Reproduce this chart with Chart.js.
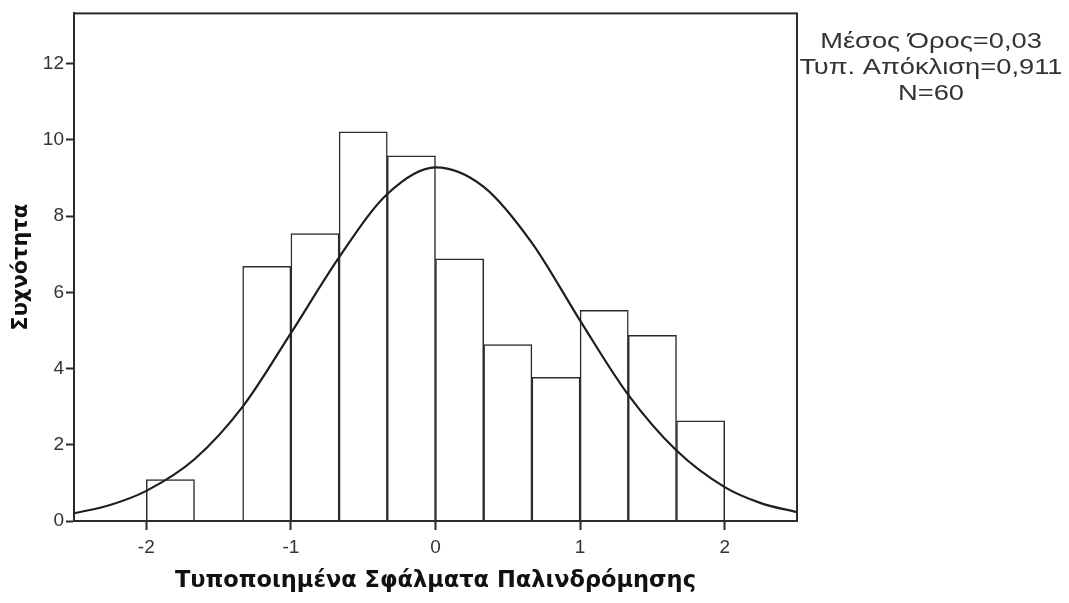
<!DOCTYPE html>
<html>
<head>
<meta charset="utf-8">
<title>Ιστόγραμμα τυποποιημένων σφαλμάτων</title>
<script src="https://cdn.jsdelivr.net/npm/chart.js@4.4.1/dist/chart.umd.min.js"></script>
<style>
  html, body { margin: 0; padding: 0; background: #ffffff; }
  #wrap { width: 1069px; height: 603px; position: relative; }
</style>
</head>
<body>
<div id="wrap"><canvas id="hist" width="1069" height="603"></canvas></div>
<script>
// Histogram bins (edges) of the standardized regression residuals
const binEdges = [-2, -1.6667, -1.3333, -1, -0.6667, -0.3333, 0, 0.3333, 0.6667, 1, 1.3333, 1.6667, 2];
// Bar heights per bin (empty bin = null)
const frequencies = [1.09, null, 6.68, 7.54, 10.21, 9.58, 6.88, 4.63, 3.77, 5.53, 4.87, 2.63];

// Fitted normal curve, sampled along the x axis
const curveX = [-2.5, -2.25, -2, -1.6667, -1.3333, -1, -0.6667, -0.3333, 0, 0.3333, 0.6667, 1, 1.3333, 1.6667, 2, 2.25, 2.5];
const curveY = [0.20, 0.42, 0.79, 1.62, 3.00, 4.93, 6.92, 8.58, 9.28, 8.77, 7.30, 5.26, 3.31, 1.85, 0.89, 0.47, 0.23];

// Axis ticks
const xTicks = [-2, -1, 0, 1, 2];
const yTicks = [0, 2, 4, 6, 8, 10, 12];

// Summary statistics printed beside the plot
const statsLines = ['Μέσος Όρος=0,03', 'Τυπ. Απόκλιση=0,911', 'N=60'];

const axisTitleX = 'Τυποποιημένα Σφάλματα Παλινδρόμησης';
const axisTitleY = 'Συχνότητα';

const INK = '#2b2b2b';

const barData = frequencies.map((f, i) => ({ x: (binEdges[i] + binEdges[i + 1]) / 2, y: f }));
const curveData = curveX.map((x, i) => ({ x: x, y: curveY[i] }));

// Frame around the plotting area
const frameBox = {
  id: 'frameBox',
  afterDatasetsDraw(chart) {
    const { ctx, chartArea: a } = chart;
    ctx.save();
    ctx.strokeStyle = INK;
    ctx.lineWidth = 2;
    ctx.strokeRect(a.left, a.top, a.right - a.left, a.bottom - a.top);
    ctx.restore();
  }
};

// Statistics block on the right (slightly widened lettering)
const statsBlock = {
  id: 'statsBlock',
  afterDraw(chart) {
    const { ctx, chartArea: a } = chart;
    const sx = 1.24;
    const cx = (a.right + chart.width) / 2 - 2;
    ctx.save();
    ctx.fillStyle = '#333333';
    ctx.font = '22px "Liberation Sans", Arial, sans-serif';
    ctx.textAlign = 'center';
    ctx.textBaseline = 'middle';
    ctx.translate(cx, 0);
    ctx.scale(sx, 1);
    statsLines.forEach((t, i) => ctx.fillText(t, 0, 42 + i * 26));
    ctx.restore();
  }
};

new Chart(document.getElementById('hist'), {
  data: {
    datasets: [
      {
        type: 'line',
        data: curveData,
        borderColor: '#1e1e1e',
        borderWidth: 2.2,
        pointRadius: 0,
        cubicInterpolationMode: 'monotone',
        fill: false,
        order: 0
      },
      {
        type: 'bar',
        data: barData,
        backgroundColor: '#ffffff',
        borderColor: INK,
        borderWidth: 1.5,
        borderSkipped: 'bottom',
        barPercentage: 1,
        categoryPercentage: 1,
        order: 1
      }
    ]
  },
  options: {
    responsive: false,
    animation: false,
    devicePixelRatio: 1,
    layout: { padding: { top: 11, right: 272, left: 0, bottom: 0 } },
    plugins: { legend: { display: false }, tooltip: { enabled: false } },
    scales: {
      x: {
        type: 'linear',
        offset: false,
        min: -2.5,
        max: 2.5,
        afterFit(s) { s.height = 82; },
        afterBuildTicks(s) { s.ticks = xTicks.map(v => ({ value: v })); },
        ticks: {
          includeBounds: false,
          color: '#333333',
          padding: 6,
          font: { family: '"Liberation Sans", Arial, sans-serif', size: 19 },
          callback: v => String(v)
        },
        grid: { display: true, offset: false, drawOnChartArea: false, drawTicks: true, tickLength: 9, tickWidth: 2, tickColor: INK },
        border: { display: true, color: INK, width: 2 },
        title: {
          display: true,
          text: axisTitleX,
          color: '#111111',
          font: { family: '"DejaVu Sans", Verdana, sans-serif', size: 22.5, weight: 'bold' },
          padding: { top: 0, bottom: 8 }
        }
      },
      y: {
        type: 'linear',
        min: 0,
        max: 13.32,
        afterFit(s) { s.width = 74; },
        afterBuildTicks(s) { s.ticks = yTicks.map(v => ({ value: v })); },
        ticks: {
          includeBounds: false,
          color: '#333333',
          padding: 2,
          font: { family: '"Liberation Sans", Arial, sans-serif', size: 19 },
          callback: v => String(v)
        },
        grid: { display: true, drawOnChartArea: false, drawTicks: true, tickLength: 8, tickWidth: 2, tickColor: INK },
        border: { display: true, color: INK, width: 2 },
        title: {
          display: true,
          text: axisTitleY,
          color: '#111111',
          font: { family: '"DejaVu Sans", Verdana, sans-serif', size: 21, weight: 'bold' },
          padding: { top: 9, bottom: 0 }
        }
      }
    }
  },
  plugins: [frameBox, statsBlock]
});
</script>
</body>
</html>
